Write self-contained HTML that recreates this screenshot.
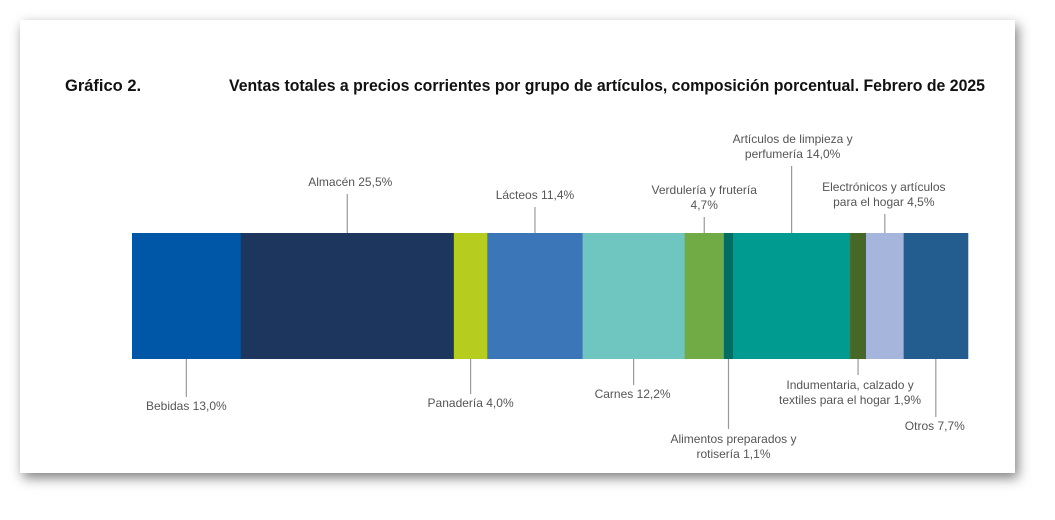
<!DOCTYPE html>
<html><head><meta charset="utf-8"><style>
body{margin:0;background:#fff;width:1055px;height:515px;overflow:hidden;font-family:"Liberation Sans",sans-serif}
</style></head><body>
<svg width="1055" height="515" viewBox="0 0 1055 515">
<defs><filter id="sh" x="-5%" y="-5%" width="115%" height="125%"><feDropShadow dx="3" dy="5" stdDeviation="6" flood-color="#000" flood-opacity="0.5"/></filter></defs>
<rect x="20" y="20" width="995" height="453" fill="#fff" filter="url(#sh)"/>
<text x="65" y="91" font-size="16.5" font-weight="bold" fill="#111">Gráfico 2.</text>
<text x="229" y="91" font-size="16.5" font-weight="bold" fill="#111" textLength="756" lengthAdjust="spacingAndGlyphs">Ventas totales a precios corrientes por grupo de artículos, composición porcentual. Febrero de 2025</text>
<g id="bars"></g><g id="labels"></g>
</svg>
<script>
const categories=["Bebidas","Almacén","Panadería","Lácteos","Carnes","Verdulería y frutería","Alimentos preparados y rotisería","Artículos de limpieza y perfumería","Indumentaria, calzado y textiles para el hogar","Electrónicos y artículos para el hogar","Otros"];
const values=[13.0,25.5,4.0,11.4,12.2,4.7,1.1,14.0,1.9,4.5,7.7];
const valueLabels=["13,0%","25,5%","4,0%","11,4%","12,2%","4,7%","1,1%","14,0%","1,9%","4,5%","7,7%"];
const labelLine1=["Bebidas","Almacén","Panadería","Lácteos","Carnes","Verdulería y frutería","Alimentos preparados y","Artículos de limpieza y","Indumentaria, calzado y","Electrónicos y artículos","Otros"];
const labelLine2=[null,null,null,null,null,"","rotisería","perfumería","textiles para el hogar","para el hogar",null];
const colors=["#0057a8","#1d365e","#b6cd1f","#3a76b8","#6fc5c0","#70ab46","#006e63","#009b90","#476726","#a6b5dc","#235d8f"];
const side=[1,-1,1,-1,1,-1,1,-1,1,-1,1];
const textY=[410,186,407,199,398,209,458,158,404,206,430];
const textDx=[0,3,0,0,-1,0,5,1,-8,-1,-1];
const X0=132,X1=968,Y0=233,Y1=359;
const total=values.reduce((a,b)=>a+b,0);
const xs=v=>X0+(X1-X0)*v/total;
const NS="http://www.w3.org/2000/svg";
const bars=document.getElementById('bars'),labels=document.getElementById('labels');
let cum=0;
values.forEach((v,i)=>{
 const x=xs(cum),w=xs(cum+v)-x;cum+=v;
 const r=document.createElementNS(NS,'rect');
 r.setAttribute('x',x);r.setAttribute('y',Y0);r.setAttribute('width',w+0.3);r.setAttribute('height',Y1-Y0);r.setAttribute('fill',colors[i]);
 
 
 bars.appendChild(r);
 const cx=x+w/2;
 const two=labelLine2[i]!==null;
 const l=document.createElementNS(NS,'line');
 let ya,yb;
 if(side[i]>0){ya=Y1;yb=textY[i]-(two?29:13);}else{ya=Y0;yb=textY[i]+8;}
 l.setAttribute('x1',cx);l.setAttribute('x2',cx);l.setAttribute('y1',ya);l.setAttribute('y2',yb);
 l.setAttribute('stroke','#999');l.setAttribute('stroke-width','1.2');
 
 
 labels.appendChild(l);
 const tx=cx+textDx[i];
 const lines=two?[labelLine1[i],(labelLine2[i]?labelLine2[i]+" ":"")+valueLabels[i]]:[labelLine1[i]+" "+valueLabels[i]];
 lines.forEach((s,k)=>{
  const t=document.createElementNS(NS,'text');
  t.setAttribute('x',tx);t.setAttribute('y',textY[i]-(lines.length-1-k)*15);
  t.setAttribute('text-anchor','middle');t.setAttribute('font-size','12');t.setAttribute('fill','#555');
  t.textContent=s;
  
  
  labels.appendChild(t);
 });
});
</script>
</body></html>
